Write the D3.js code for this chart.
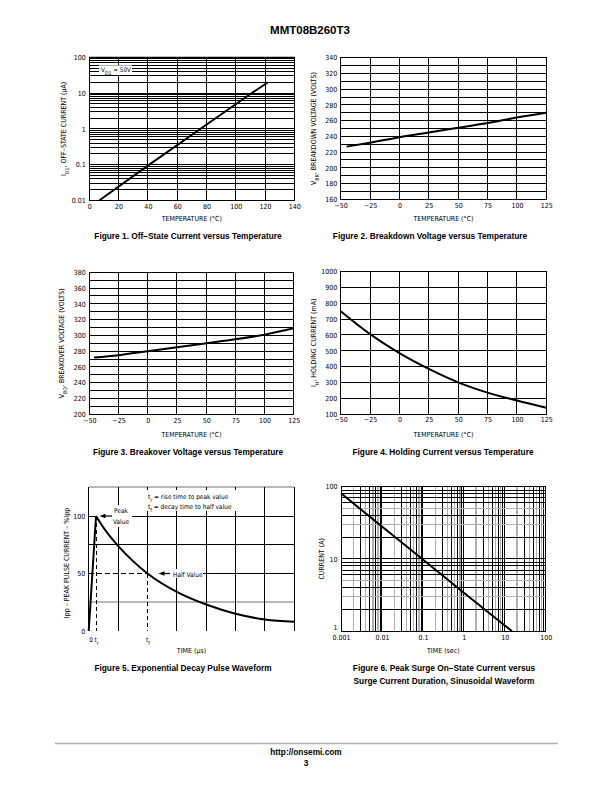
<!DOCTYPE html>
<html><head><meta charset="utf-8">
<script src="https://cdn.jsdelivr.net/npm/d3@7"></script>
<style>body{margin:0;background:#fff}</style></head>
<body>
<svg id="c" width="612" height="792" xmlns="http://www.w3.org/2000/svg"></svg>
<script>
// ---------------- DATA ----------------
const fig1Temp = [7, 40, 76, 111, 122];
const fig1Current = [0.01, 0.093, 1, 10, 20];
const fig2Temp = [-45, -25, 0, 25, 50, 75, 100, 125];
const fig2Voltage = [227, 232, 239, 245, 251, 257, 264, 270];
const fig3Temp = [-46, -25, 0, 25, 50, 75, 100, 125];
const fig3Voltage = [272, 275, 280, 285, 290, 295, 301, 309];
const fig4Temp = [-50, -25, 0, 25, 50, 75, 100, 125];
const fig4Current = [750, 605, 485, 385, 300, 235, 185, 140];
const fig5Time = [0, 0.25, 0.5, 1, 1.5, 2, 3, 4, 5, 6, 7];
const fig5Percent = [0, 100, 90, 74, 61, 50, 34, 23, 15, 10, 8];
const fig6Time = [0.001, 0.01, 0.1, 1, 10, 15];
const fig6Current = [81, 28, 9.8, 3.4, 1.19, 1.0];

const fig1XTicks = [0, 20, 40, 60, 80, 100, 120, 140];
const fig1YTicks = [0.01, 0.1, 1, 10, 100];
const fig1YLabels = ["0.01", "0.1", "1", "10", "100"];
const tempTicks = [-50, -25, 0, 25, 50, 75, 100, 125];
const tempLabels = ["\u221250", "\u221225", "0", "25", "50", "75", "100", "125"];
const fig2YTicks = [160, 180, 200, 220, 240, 260, 280, 300, 320, 340];
const fig3YTicks = [200, 220, 240, 260, 280, 300, 320, 340, 360, 380];
const fig4YTicks = [100, 200, 300, 400, 500, 600, 700, 800, 900, 1000];
const fig5YTicks = [0, 50, 100];
const fig6XTicks = [0.001, 0.01, 0.1, 1, 10, 100];
const fig6XLabels = ["0.001", "0.01", "0.1", "1", "10", "100"];
const fig6YTicks = [1, 10, 100];
const fig6YLabels = ["1", "10", "100"];

// ---------------- HELPERS ----------------
const svg = d3.select("#c");
const NARROW = "'Liberation Sans Narrow','Arial Narrow','DejaVu Sans Condensed',sans-serif";
const SANS = "'Liberation Sans',Arial,Helvetica,sans-serif";

function vGrid(vals, x, y0, y1, color, w, dash) {
  svg.append("g").attr("shape-rendering", "crispEdges").selectAll("line").data(vals).join("line")
    .attr("x1", d => x(d)).attr("x2", d => x(d)).attr("y1", y0).attr("y2", y1)
    .attr("stroke", color).attr("stroke-width", w)
    .attr("stroke-dasharray", dash || null);
}
function hGrid(vals, y, x0, x1, color, w, dash) {
  svg.append("g").attr("shape-rendering", "crispEdges").selectAll("line").data(vals).join("line")
    .attr("y1", d => y(d)).attr("y2", d => y(d)).attr("x1", x0).attr("x2", x1)
    .attr("stroke", color).attr("stroke-width", w)
    .attr("stroke-dasharray", dash || null);
}
function border(x0, y0, x1, y1) {
  svg.append("rect").attr("x", x0).attr("y", y0).attr("width", x1 - x0).attr("height", y1 - y0)
    .attr("fill", "none").attr("stroke", "#000").attr("stroke-width", 1).attr("shape-rendering", "crispEdges");
}
function styleAxis(g) {
  g.select(".domain").remove();
  g.attr("font-family", NARROW).attr("font-size", 7).attr("fill", "#000");
  g.selectAll("text").attr("fill", "#000");
}
function xAxis(x, yPos, vals, labels, pad) {
  const ax = d3.axisBottom(x).tickValues(vals).tickSize(0).tickPadding(pad || 3.5)
    .tickFormat((d, i) => labels ? labels[i] : d);
  return svg.append("g").attr("transform", `translate(0,${yPos})`).call(ax).call(styleAxis);
}
function yAxis(y, xPos, vals, labels) {
  const ax = d3.axisLeft(y).tickValues(vals).tickSize(0).tickPadding(3.5)
    .tickFormat((d, i) => labels ? labels[i] : d);
  return svg.append("g").attr("transform", `translate(${xPos},0)`).call(ax).call(styleAxis);
}
function xTitle(cx, yb, txt) {
  const t = svg.append("text").attr("x", cx).attr("y", yb).attr("text-anchor", "middle")
    .attr("font-family", NARROW).attr("font-size", 7);
  addParts(t, txt);
}
function yTitle(xb, cy, parts) {
  const t = svg.append("text").attr("transform", `translate(${xb},${cy}) rotate(-90)`)
    .attr("text-anchor", "middle").attr("font-family", NARROW).attr("font-size", 7);
  addParts(t, parts);
}
function addParts(t, parts) {
  if (typeof parts === "string") parts = [{ t: parts }];
  parts.forEach(p => {
    const s = t.append("tspan").text(p.t);
    if (p.sub) s.attr("baseline-shift", "sub").attr("font-size", 5.2);
  });
}
function caption(cx, yb, txt) {
  svg.append("text").attr("x", cx).attr("y", yb).attr("text-anchor", "middle")
    .attr("font-family", SANS).attr("font-weight", "bold").attr("font-size", 8.3).text(txt);
}
function curve(xs, ys, x, y, crv) {
  const pts = xs.map((d, i) => [d, ys[i]]);
  svg.append("path").datum(pts)
    .attr("d", d3.line().x(d => x(d[0])).y(d => y(d[1])).curve(crv || d3.curveMonotoneX))
    .attr("fill", "none").attr("stroke", "#000").attr("stroke-width", 2).attr("stroke-linecap", "butt");
}
function logMinor(lo, hi) {
  const out = [];
  for (let d = lo; d < hi * 0.999; d *= 10) for (let k = 1; k <= 9; k++) out.push(d * k);
  out.push(hi);
  return out;
}
function arrowLeft(xHead, xTail, yy) {
  svg.append("line").attr("x1", xHead + 4).attr("x2", xTail).attr("y1", yy).attr("y2", yy)
    .attr("stroke", "#000").attr("stroke-width", 1.2);
  svg.append("path").attr("d", `M${xHead},${yy} L${xHead + 6},${yy - 2.2} L${xHead + 6},${yy + 2.2} Z`).attr("fill", "#000");
}

// ---------------- HEADER ----------------
svg.append("text").attr("x", 310).attr("y", 33.5).attr("text-anchor", "middle")
  .attr("font-family", SANS).attr("font-weight", "bold").attr("font-size", 11.5).text("MMT08B260T3");

// ---------------- FIGURE 1 ----------------
{
  const L = 89.3, R = 294.3, T = 57.3, B = 200.3;
  const x = d3.scaleLinear([0, 140], [L, R]);
  const y = d3.scaleLog([0.01, 100], [B, T]);
  hGrid(logMinor(0.01, 100), y, L, R, "#000", 1);
  vGrid(fig1XTicks, x, T, B, "#000", 1);
  border(L, T, R, B);
  svg.append("line").attr("x1", L).attr("x2", R).attr("y1", T + 0.5).attr("y2", T + 0.5).attr("stroke", "#000").attr("stroke-width", 2);
  svg.append("rect").attr("x", 99).attr("y", 65.3).attr("width", 33).attr("height", 9.5).attr("fill", "#fff");
  const lt = svg.append("text").attr("x", 101).attr("y", 72.3).attr("font-family", NARROW).attr("font-size", 6.3);
  addParts(lt, [{ t: "V" }, { t: "D1", sub: true }, { t: " = 50V" }]);
  curve(fig1Temp, fig1Current, x, y, d3.curveLinear);
  xAxis(x, B, fig1XTicks);
  yAxis(y, L, fig1YTicks, fig1YLabels);
  xTitle((L + R) / 2, 221, "TEMPERATURE (\u00B0C)");
  yTitle(65.5, (T + B) / 2, [{ t: "I" }, { t: "D1", sub: true }, { t: ", OFF\u2013STATE CURRENT (\u03BCA)" }]);
  caption(188, 239, "Figure 1. Off\u2212State Current versus Temperature");
}

// ---------------- FIGURE 2 ----------------
{
  const L = 340.7, R = 546.3, T = 57.7, B = 199.3;
  const x = d3.scaleLinear([-50, 125], [L, R]);
  const y = d3.scaleLinear([160, 340], [B, T]);
  hGrid(d3.range(160, 341, 10), y, L, R, "#000", 1);
  vGrid(tempTicks, x, T, B, "#000", 1);
  border(L, T, R, B);
  curve(fig2Temp, fig2Voltage, x, y);
  xAxis(x, B, tempTicks, tempLabels);
  yAxis(y, L, fig2YTicks);
  xTitle((L + R) / 2, 221, "TEMPERATURE (\u00B0C)");
  yTitle(315.5, (T + B) / 2, [{ t: "V" }, { t: "BR", sub: true }, { t: ", BREAKDOWN VOLTAGE (VOLTS)" }]);
  caption(430, 239, "Figure 2. Breakdown Voltage versus Temperature");
}

// ---------------- FIGURE 3 ----------------
{
  const L = 89.3, R = 293.8, T = 272.3, B = 414.3;
  const x = d3.scaleLinear([-50, 125], [L, R]);
  const y = d3.scaleLinear([200, 380], [B, T]);
  hGrid(d3.range(200, 381, 10), y, L, R, "#000", 1);
  vGrid(tempTicks, x, T, B, "#000", 1);
  border(L, T, R, B);
  curve(fig3Temp, fig3Voltage, x, y);
  xAxis(x, B, tempTicks, tempLabels);
  yAxis(y, L, fig3YTicks);
  xTitle((L + R) / 2, 436.5, "TEMPERATURE (\u00B0C)");
  yTitle(64, (T + B) / 2, [{ t: "V" }, { t: "BO", sub: true }, { t: ", BREAKOVER VOLTAGE (VOLTS)" }]);
  caption(188, 455, "Figure 3. Breakover Voltage versus Temperature");
}

// ---------------- FIGURE 4 ----------------
{
  const L = 340.7, R = 546.3, T = 271.7, B = 414;
  const x = d3.scaleLinear([-50, 125], [L, R]);
  const y = d3.scaleLinear([100, 1000], [B, T]);
  hGrid(fig4YTicks, y, L, R, "#000", 1);
  vGrid(tempTicks, x, T, B, "#000", 1);
  border(L, T, R, B);
  curve(fig4Temp, fig4Current, x, y);
  xAxis(x, B, tempTicks, tempLabels);
  yAxis(y, L, fig4YTicks);
  xTitle((L + R) / 2, 436.5, "TEMPERATURE (\u00B0C)");
  yTitle(315.5, (T + B) / 2, [{ t: "I" }, { t: "H", sub: true }, { t: ", HOLDING CURRENT (mA)" }]);
  caption(443, 455, "Figure 4. Holding Current versus Temperature");
}

// ---------------- FIGURE 5 ----------------
{
  const L = 88.7, R = 294.3, T = 487.3, B = 631;
  const x = d3.scaleLinear([0, 7], [L, R]);
  const y = d3.scaleLinear([0, 125], [B, T]);
  const tr = fig5Time[1], tf = fig5Time[5];
  hGrid([125, 25], y, L, R, "#b8b8b8", 2);
  vGrid([1, 3, 4, 5, 6, 7], x, T, B, "#000", 1);
  vGrid([tf], x, T, y(50), "#000", 1);
  vGrid([tf], x, y(50), B, "#000", 1, "4,3");
  vGrid([tr], x, y(100), B, "#000", 1, "4,3");
  hGrid([75], y, L, R, "#000", 1);
  hGrid([100], y, L, x(tr), "#000", 1);
  hGrid([100], y, 131.7, R, "#000", 1);
  hGrid([50], y, L, x(tf), "#000", 1, "5,3");
  hGrid([50], y, 203, R, "#000", 1);
  svg.append("line").attr("x1", L).attr("x2", L).attr("y1", T).attr("y2", B).attr("stroke", "#000").attr("stroke-width", 1).attr("shape-rendering", "crispEdges");
  svg.append("rect").attr("x", 112).attr("y", 505).attr("width", 18).attr("height", 22).attr("fill", "#fff");
  svg.append("rect").attr("x", 146).attr("y", 490).attr("width", 93).attr("height", 21).attr("fill", "#fff");
  svg.append("rect").attr("x", 171).attr("y", 569).attr("width", 32).attr("height", 9).attr("fill", "#fff");
  curve(fig5Time.slice(0, 2), fig5Percent.slice(0, 2), x, y, d3.curveLinear);
  curve(fig5Time.slice(1), fig5Percent.slice(1), x, y, d3.curveMonotoneX);
  arrowLeft(99.5, 112, y(100));
  arrowLeft(158.5, 170, y(50));
  const tx = (xx, yy, parts, anchor) => {
    const t = svg.append("text").attr("x", xx).attr("y", yy).attr("font-family", NARROW).attr("font-size", 6.5)
      .attr("text-anchor", anchor || "start");
    addParts(t, parts);
  };
  tx(121, 513, "Peak", "middle");
  tx(121, 523.5, "Value", "middle");
  tx(173, 576.5, "Half Value");
  tx(148, 499, [{ t: "t" }, { t: "r", sub: true }, { t: " = rise time to peak value" }]);
  tx(148, 509, [{ t: "t" }, { t: "f", sub: true }, { t: " = decay time to half value" }]);
  yAxis(y, L, fig5YTicks);
  tx(x(0) + 0.5, 641.5, "0");
  tx(x(tr) - 1.5, 641.5, [{ t: "t" }, { t: "r", sub: true }]);
  tx(x(tf) - 1.5, 641.5, [{ t: "t" }, { t: "f", sub: true }]);
  xTitle((L + R) / 2, 652.5, "TIME (\u03BCs)");
  yTitle(69, 563, "Ipp \u2013 PEAK PULSE CURRENT \u2013 %Ipp");
  caption(183, 671, "Figure 5. Exponential Decay Pulse Waveform");
}

// ---------------- FIGURE 6 ----------------
{
  const L = 341, R = 545.7, T = 486.7, B = 631;
  const x = d3.scaleLog([0.001, 100], [L, R]);
  const y = d3.scaleLog([1, 100], [B, T]);
  const xm = logMinor(0.001, 100);
  const grayK = [2, 4, 6, 8];
  const mant = d => Math.round(d / Math.pow(10, Math.floor(Math.log10(d) + 1e-9)));
  const isGray = d => grayK.includes(mant(d));
  vGrid(xm.filter(isGray), x, T, B, "#b0b0b0", 1.3);
  vGrid(xm.filter(d => !isGray(d)), x, T, B, "#000", 1);
  const ym = logMinor(1, 100);
  const isGrayY = d => [3, 5].includes(mant(d));
  hGrid(ym.filter(isGrayY), y, L, R, "#b0b0b0", 1.3);
  hGrid(ym.filter(d => !isGrayY(d)), y, L, R, "#000", 1);
  border(L, T, R, B);
  curve(fig6Time, fig6Current, x, y, d3.curveLinear);
  xAxis(x, B, fig6XTicks, fig6XLabels, 4.5);
  const ya = yAxis(y, L, fig6YTicks, fig6YLabels);
  ya.selectAll(".tick text").filter(d => d === 1).attr("dy", "-0.15em");
  xTitle((L + R) / 2, 653, "TIME (sec)");
  yTitle(324, (T + B) / 2, "CURRENT (A)");
  caption(444, 671, "Figure 6. Peak Surge On\u2212State Current versus");
  caption(444, 684, "Surge Current Duration, Sinusoidal Waveform");
}

// ---------------- FOOTER ----------------
svg.append("line").attr("x1", 55).attr("x2", 558).attr("y1", 743.5).attr("y2", 743.5)
  .attr("stroke", "#b0b0b0").attr("stroke-width", 1.5);
svg.append("text").attr("x", 306).attr("y", 755).attr("text-anchor", "middle")
  .attr("font-family", SANS).attr("font-weight", "bold").attr("font-size", 8.3).text("http://onsemi.com");
svg.append("text").attr("x", 306).attr("y", 765.5).attr("text-anchor", "middle")
  .attr("font-family", SANS).attr("font-weight", "bold").attr("font-size", 8.3).text("3");
</script>
</body></html>
